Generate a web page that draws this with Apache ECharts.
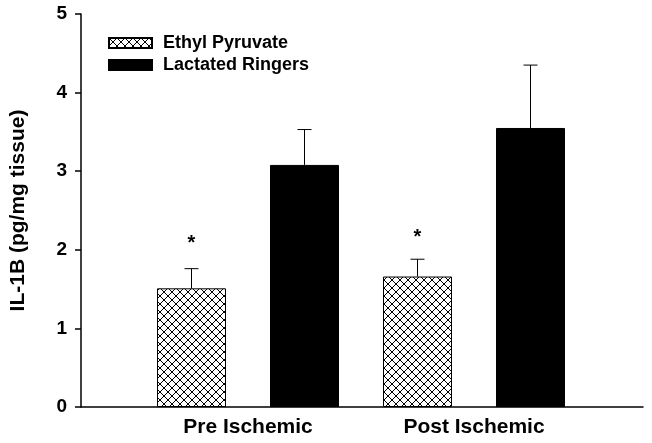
<!DOCTYPE html>
<html>
<head>
<meta charset="utf-8">
<script src="https://cdn.jsdelivr.net/npm/echarts@6/dist/echarts.min.js"></script>
<style>
  html, body { margin: 0; padding: 0; background: #fff; }
  #chart { width: 652px; height: 443px; }
</style>
</head>
<body>
<div id="chart"></div>
<script>
// ---- data ----
const categories = ['Pre Ischemic', 'Post Ischemic'];
const seriesNames = ['Ethyl Pyruvate', 'Lactated Ringers'];
const ethylPyruvate = [1.51, 1.66];
const ethylPyruvateErr = [0.25, 0.22];
const lactatedRingers = [3.08, 3.55];
const lactatedRingersErr = [0.45, 0.80];
const asteriskLevel = [2.08, 2.16];   // "*" significance markers above Ethyl Pyruvate bars
const yTicks = [0, 1, 2, 3, 4, 5];

// ---- styling ----
const FONT = '"Liberation Sans", Arial, sans-serif';
const BAR_W = 69;
const GAP_PX = 44;
const OFFSET = (BAR_W + GAP_PX) / 2;

function hatch() {
  const c = document.createElement('canvas');
  c.width = 8; c.height = 8;
  const g = c.getContext('2d');
  g.fillStyle = '#fff';
  g.fillRect(0, 0, 8, 8);
  g.strokeStyle = '#000';
  g.lineWidth = 1;
  g.beginPath();
  g.moveTo(-1, -1); g.lineTo(9, 9);
  g.moveTo(-1, 9); g.lineTo(9, -1);
  g.stroke();
  return c;
}

const chart = echarts.init(document.getElementById('chart'), null, { renderer: 'canvas' });

function errorSeries(values, errs, sign) {
  return {
    type: 'custom',
    xAxisIndex: 1, yAxisIndex: 1,
    z: 5,
    silent: true,
    data: values.map((v, i) => [i, v, errs[i]]),
    encode: { x: 0, y: 1 },
    renderItem: function (params, api) {
      const i = api.value(0), v = api.value(1), e = api.value(2);
      const b = api.coord([i, v]);
      const t = api.coord([i, v + e]);
      const x = b[0] + sign * OFFSET;
      const style = { stroke: '#000', lineWidth: 1 };
      return {
        type: 'group',
        children: [
          { type: 'line', shape: { x1: x, y1: b[1], x2: x, y2: t[1] }, style: style },
          { type: 'line', shape: { x1: x - 7, y1: t[1], x2: x + 7, y2: t[1] }, style: style }
        ]
      };
    }
  };
}

const option = {
  backgroundColor: '#fff',
  animation: false,
  grid: [
    { left: 78, right: 9, top: 14, bottom: 36 },
    { left: 135, right: 65, top: 14, bottom: 36 }
  ],
  legend: {
    orient: 'vertical',
    left: 103, top: 29,
    itemWidth: 43, itemHeight: 10,
    itemGap: 4,
    icon: 'rect',
    data: seriesNames,
    textStyle: { fontFamily: FONT, fontSize: 18, fontWeight: 'bold', color: '#000', padding: [0, 0, 0, 6] }
  },
  xAxis: [
    {
      type: 'value', gridIndex: 0, min: 0, max: 1,
      axisLine: { show: true, onZero: false, lineStyle: { color: '#000', width: 1.5 } },
      axisTick: { show: false }, axisLabel: { show: false }, splitLine: { show: false }
    },
    {
      type: 'category', gridIndex: 1, data: categories,
      axisLine: { show: false }, axisTick: { show: false },
      axisLabel: { fontFamily: FONT, fontSize: 21, fontWeight: 'bold', color: '#000', margin: 10 }
    }
  ],
  yAxis: [
    {
      type: 'value', gridIndex: 0, min: yTicks[0], max: yTicks[yTicks.length - 1], interval: 1,
      name: 'IL-1B (pg/mg tissue)', nameLocation: 'middle', nameGap: 52,
      nameTextStyle: { fontFamily: FONT, fontSize: 21, fontWeight: 'bold', color: '#000' },
      axisLine: { show: true, lineStyle: { color: '#000', width: 1.5 } },
      axisTick: { show: true, length: 6, lineStyle: { color: '#000', width: 1.5 } },
      axisLabel: { fontFamily: FONT, fontSize: 19, fontWeight: 'bold', color: '#000', margin: 14 },
      splitLine: { show: false }
    },
    {
      type: 'value', gridIndex: 1, min: yTicks[0], max: yTicks[yTicks.length - 1], interval: 1,
      show: false
    }
  ],
  series: [
    {
      name: seriesNames[0], type: 'bar', xAxisIndex: 1, yAxisIndex: 1,
      data: ethylPyruvate, barWidth: BAR_W, barGap: (GAP_PX / BAR_W * 100) + '%',
      itemStyle: { color: { image: hatch(), repeat: 'repeat' }, borderColor: '#000', borderWidth: 1 }
    },
    {
      name: seriesNames[1], type: 'bar', xAxisIndex: 1, yAxisIndex: 1,
      data: lactatedRingers, barWidth: BAR_W,
      itemStyle: { color: '#000', borderColor: '#000', borderWidth: 1 }
    },
    errorSeries(ethylPyruvate, ethylPyruvateErr, -1),
    errorSeries(lactatedRingers, lactatedRingersErr, 1),
    {
      type: 'custom', xAxisIndex: 1, yAxisIndex: 1, silent: true, z: 6,
      data: asteriskLevel.map((v, i) => [i, v]),
      encode: { x: 0, y: 1 },
      renderItem: function (params, api) {
        const p = api.coord([api.value(0), api.value(1)]);
        return {
          type: 'text',
          x: p[0] - OFFSET, y: p[1],
          style: { text: '*', fill: '#000', font: 'bold 20px ' + FONT, align: 'center', verticalAlign: 'middle' }
        };
      }
    }
  ]
};

chart.setOption(option);
</script>
</body>
</html>
